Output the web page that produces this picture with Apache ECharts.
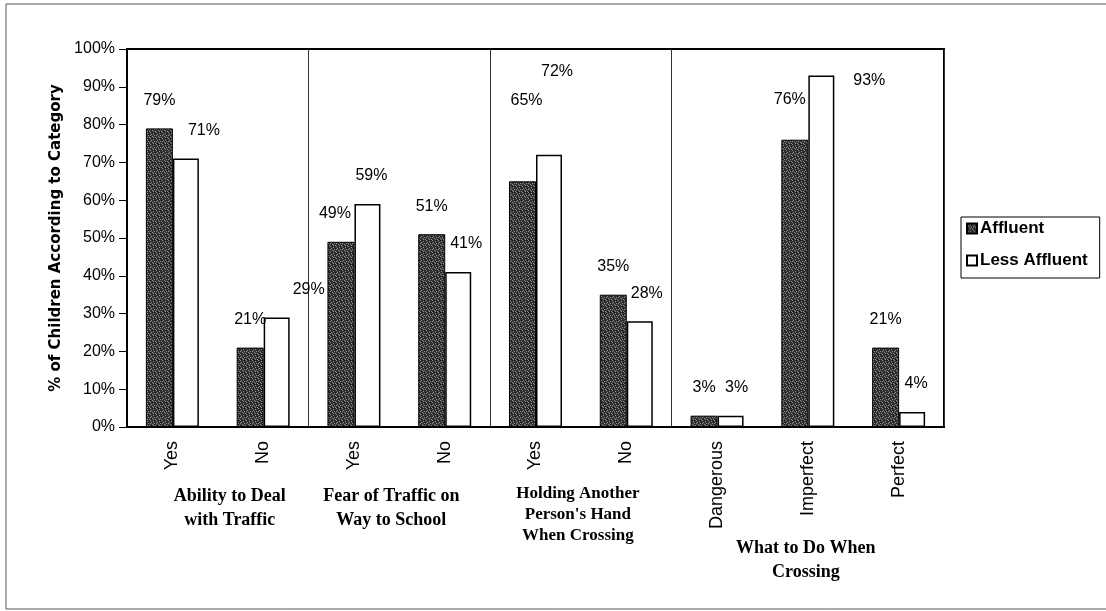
<!DOCTYPE html>
<html>
<head>
<meta charset="utf-8">
<script src="https://cdn.jsdelivr.net/npm/echarts@6/dist/echarts.min.js"></script>
<style>
  html, body { margin: 0; padding: 0; background: #fff; }
  #chart { width: 1106px; height: 611px; }
</style>
</head>
<body>
<div id="chart"></div>
<script>
// Survey answers, % of children per category
const categories = ['Yes', 'No', 'Yes', 'No', 'Yes', 'No', 'Dangerous', 'Imperfect', 'Perfect'];
const groupNames = [
  'Ability to Deal\nwith Traffic',
  'Fear of Traffic on\nWay to School',
  'Holding Another\nPerson\'s Hand\nWhen Crossing',
  'What to Do When\nCrossing'
];
const groupSizes = [2, 2, 2, 3];
const affluent = [79, 21, 49, 51, 65, 35, 3, 76, 21];
const lessAffluent = [71, 29, 59, 41, 72, 28, 3, 93, 4];
const seriesNames = ['Affluent', 'Less Affluent'];

// label nudges (px) for value labels that sit off their default spot
const affluentLabelShift = [[0, 0], [0, 0], [-6, 0], [0, 0], [4, -53], [0, 0], [0, 0], [-5, -12], [0, 0]];
const lessLabelShift = [[18, 0], [32, 0], [4, 0], [8, 0], [8, -55], [7, 0], [6, 0], [48, 33], [4, 0]];

// grainy dark fill for the Affluent bars
function grainPattern() {
  const c = document.createElement('canvas');
  c.width = 6; c.height = 6;
  const g = c.getContext('2d');
  g.fillStyle = '#333333';
  g.fillRect(0, 0, 6, 6);
  g.fillStyle = '#8c8c8c';
  const pts = [[0, 0], [3, 1], [1, 2], [4, 3], [2, 4], [5, 5], [0, 3], [3, 5]];
  pts.forEach(p => g.fillRect(p[0], p[1], 1, 1));
  g.fillStyle = '#161616';
  [[2, 0], [5, 2], [1, 5], [4, 0]].forEach(p => g.fillRect(p[0], p[1], 1, 1));
  return c;
}

// group separators sit on the category boundaries
const boundaries = [];
groupSizes.reduce((acc, n) => { boundaries.push(acc + n); return acc + n; }, 0);
boundaries.pop();

const chart = echarts.init(document.getElementById('chart'), null, { renderer: 'canvas' });

function labelItems(values, shifts) {
  return values.map((v, i) => ({
    value: v,
    label: { offset: shifts[i] }
  }));
}

const labelStyle = {
  show: true,
  position: 'top',
  distance: 20,
  formatter: '{c}%',
  color: '#000',
  fontFamily: 'Liberation Sans, Arial, sans-serif',
  fontSize: 16
};

chart.setOption({
  animation: false,
  backgroundColor: '#fff',
  grid: {
    left: 127, right: 162, top: 49, bottom: 184,
    show: true, borderColor: '#000', borderWidth: 2, backgroundColor: 'transparent'
  },
  legend: {
    orient: 'vertical',
    left: 961, top: 217,
    padding: [3, 12, 9, 5],
    itemGap: 15,
    itemWidth: 10, itemHeight: 10,
    borderColor: '#000', borderWidth: 1,
    icon: 'rect',
    textStyle: {
      color: '#000', fontFamily: 'Liberation Sans, Arial, sans-serif',
      fontWeight: 'bold', fontSize: 17, padding: [0, 0, 0, -2]
    },
    data: seriesNames
  },
  xAxis: {
    type: 'category',
    data: categories,
    boundaryGap: true,
    axisLine: { lineStyle: { color: '#000', width: 2 } },
    axisTick: { show: false },
    splitLine: {
      show: true,
      interval: (i) => boundaries.indexOf(i) !== -1,
      lineStyle: { color: '#333', width: 1 }
    },
    axisLabel: {
      rotate: 90,
      margin: 14,
      interval: 0,
      color: '#000',
      fontFamily: 'Liberation Sans, Arial, sans-serif',
      fontSize: 18
    }
  },
  yAxis: {
    type: 'value',
    min: 0, max: 100, interval: 10,
    name: '% of Children According to Category',
    nameLocation: 'middle',
    nameGap: 62,
    nameTextStyle: {
      color: '#000', fontFamily: '"DejaVu Sans", sans-serif',
      fontWeight: 'bold', fontSize: 15
    },
    axisLine: { show: true, lineStyle: { color: '#000', width: 2 } },
    axisTick: { show: true, length: 8, lineStyle: { color: '#000', width: 1 } },
    splitLine: { show: false },
    axisLabel: {
      formatter: '{value}%',
      margin: 12,
      color: '#000',
      fontFamily: 'Liberation Sans, Arial, sans-serif',
      fontSize: 16
    }
  },
  series: [
    {
      name: seriesNames[0],
      type: 'bar',
      barWidth: 27,
      barGap: '0%',
      data: labelItems(affluent, affluentLabelShift),
      itemStyle: {
        color: { image: grainPattern(), repeat: 'repeat' },
        borderColor: '#000', borderWidth: 1
      },
      label: labelStyle
    },
    {
      name: seriesNames[1],
      type: 'bar',
      barWidth: 26,
      data: labelItems(lessAffluent, lessLabelShift),
      itemStyle: { color: '#fff', borderColor: '#000', borderWidth: 1.5 },
      label: labelStyle
    }
  ]
});

// group titles under the category labels, centred on each group
function drawGroupTitles() {
  const els = [];
  let start = 0;
  groupNames.forEach((name, g) => {
    const first = chart.convertToPixel({ xAxisIndex: 0 }, start);
    const last = chart.convertToPixel({ xAxisIndex: 0 }, start + groupSizes[g] - 1);
    const cx = (first + last) / 2;
    const isLong = g === 2;
    const isLast = g === groupSizes.length - 1;
    els.push({
      type: 'text',
      x: cx + (g === 0 ? 12 : (g === 1 ? -8 : (g === 2 ? -3 : -2))),
      y: isLast ? 536 : (isLong ? 483 : 484),
      style: {
        text: name,
        align: 'center',
        verticalAlign: 'top',
        fill: '#000',
        font: 'bold ' + (isLong ? 17 : 18) + 'px "Liberation Serif", "Times New Roman", serif',
        lineHeight: isLong ? 21 : 24
      }
    });
    start += groupSizes[g];
  });
  // outer frame of the figure
  els.push({
    type: 'rect',
    shape: { x: 6, y: 4, width: 1110, height: 605 },
    style: { fill: 'none', stroke: '#555', lineWidth: 1 },
    silent: true
  });
  chart.setOption({ graphic: els });
}
drawGroupTitles();
</script>
</body>
</html>
